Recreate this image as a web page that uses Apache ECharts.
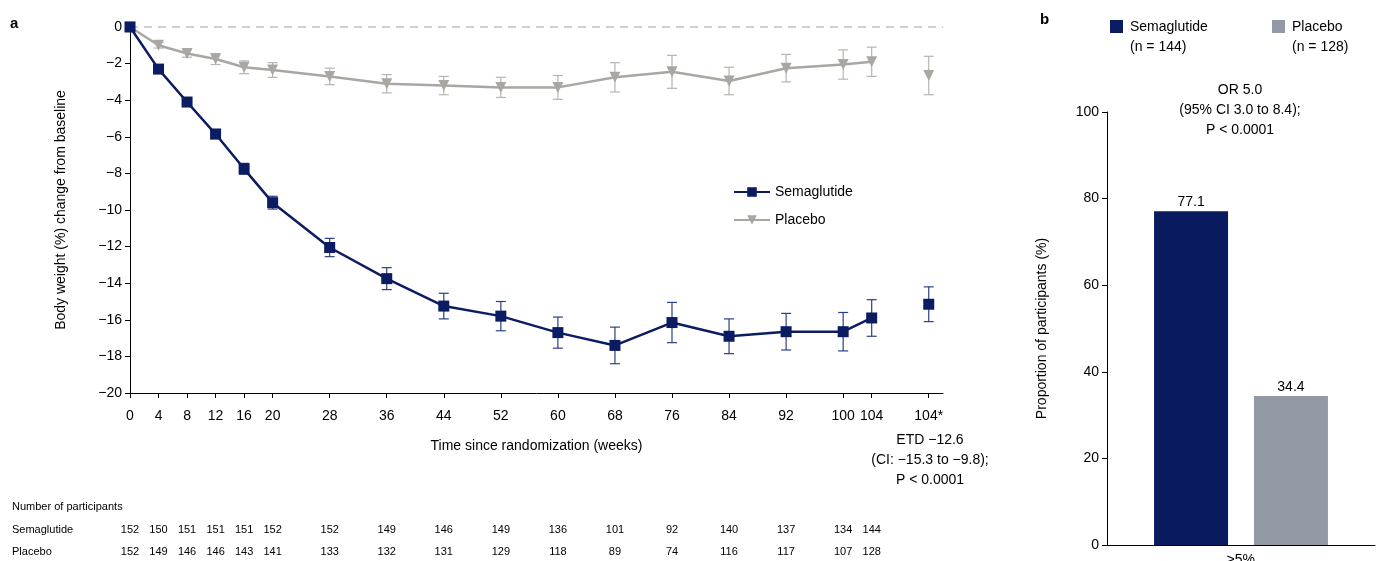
<!DOCTYPE html>
<html>
<head>
<meta charset="utf-8">
<script src="https://cdn.jsdelivr.net/npm/echarts@6/dist/echarts.min.js"></script>
<style>html,body{margin:0;padding:0;background:#fff}#main{width:1377px;height:561px}</style>
</head>
<body>
<div id="main"></div>
<script>
// week positions; 112 stands for the "104*" final value
var weeks = [0, 4, 8, 12, 16, 20, 28, 36, 44, 52, 60, 68, 76, 84, 92, 100, 104];
var tickLabels = ["0", "4", "8", "12", "16", "20", "28", "36", "44", "52", "60", "68", "76", "84", "92", "100", "104", "104*"];
var tickPos = weeks.concat([112]);
var semaMean = [0, -2.3, -4.1, -5.85, -7.75, -9.6, -12.05, -13.75, -15.25, -15.8, -16.7, -17.4, -16.15, -16.9, -16.65, -16.65, -15.9];
var semaErr = [0, 0.15, 0.2, 0.25, 0.3, 0.35, 0.5, 0.6, 0.7, 0.8, 0.85, 1.0, 1.1, 0.95, 1.0, 1.05, 1.0];
var semaFinal = -15.15, semaFinalErr = 0.95;
var plaMean = [0, -1.0, -1.45, -1.75, -2.2, -2.35, -2.7, -3.1, -3.2, -3.3, -3.3, -2.75, -2.45, -2.95, -2.25, -2.05, -1.9];
var plaErr = [0, 0.15, 0.2, 0.3, 0.35, 0.4, 0.45, 0.5, 0.5, 0.55, 0.65, 0.8, 0.9, 0.75, 0.75, 0.8, 0.8];
var plaFinal = -2.65, plaFinalErr = 1.05;
var semaN = [152, 150, 151, 151, 151, 152, 152, 149, 146, 149, 136, 101, 92, 140, 137, 134, 144];
var plaN = [152, 149, 146, 146, 143, 141, 133, 132, 131, 129, 118, 89, 74, 116, 117, 107, 128];
var barCats = ["≥5%"];
var barSema = [77.1];
var barPla = [34.4];

var NAVY = "#0b1c62", GREY = "#aaa6a2", BARGREY = "#9499a6";
var FONT = "Liberation Sans";

function pts(x, y) { return x.map(function (v, i) { return [v, y[i]]; }); }
function errData(x, m, e) { return x.map(function (v, i) { return [v, m[i] - e[i], m[i] + e[i]]; }); }
function errSeries(data, color) {
  return {
    type: "custom", xAxisIndex: 0, yAxisIndex: 0, z: 1, silent: true,
    renderItem: function (params, api) {
      var lo = api.coord([api.value(0), api.value(1)]);
      var hi = api.coord([api.value(0), api.value(2)]);
      var w = 5;
      var st = { stroke: color, lineWidth: 1.2 };
      return { type: "group", children: [
        { type: "line", shape: { x1: lo[0], y1: lo[1], x2: hi[0], y2: hi[1] }, style: st },
        { type: "line", shape: { x1: lo[0] - w, y1: lo[1], x2: lo[0] + w, y2: lo[1] }, style: st },
        { type: "line", shape: { x1: hi[0] - w, y1: hi[1], x2: hi[0] + w, y2: hi[1] }, style: st }
      ] };
    },
    encode: { x: 0, y: [1, 2] },
    data: data
  };
}

function txt(x, y, s, size, align) {
  return { type: "text", x: x, y: y, style: { text: s, font: size + "px " + FONT, fill: "#000", align: align || "left", lineHeight: 20 } };
}
function row(x, y, s, align) {
  return { type: "text", x: x, y: y, style: { text: s, font: "11px " + FONT, fill: "#000", align: align || "left", verticalAlign: "middle" } };
}
var graphics = [
  { type: "text", x: 10, y: 16, style: { text: "a", font: "bold 15px " + FONT, fill: "#000" } },
  { type: "text", x: 1040, y: 12, style: { text: "b", font: "bold 15px " + FONT, fill: "#000" } },
  txt(930, 430, "ETD −12.6\n(CI: −15.3 to −9.8);\nP < 0.0001", 14, "center"),
  row(12, 507, "Number of participants"),
  row(12, 530, "Semaglutide"),
  row(12, 552, "Placebo"),
  { type: "rect", x: 1110, y: 20, shape: { width: 13, height: 13 }, style: { fill: NAVY } },
  txt(1130, 17, "Semaglutide\n(n = 144)", 14),
  { type: "rect", x: 1272, y: 20, shape: { width: 13, height: 13 }, style: { fill: BARGREY } },
  txt(1292, 17, "Placebo\n(n = 128)", 14),
  txt(1240, 80, "OR 5.0\n(95% CI 3.0 to 8.4);\nP < 0.0001", 14, "center")
];

var myChart = echarts.init(document.getElementById("main"));
var option = {
  animation: false,
  textStyle: { fontFamily: FONT },
  grid: [
    { left: 130, right: 434, top: 27, bottom: 168, outerBoundsMode: "none" },
    { left: 1107, right: 2, top: 112, bottom: 16, outerBoundsMode: "none" }
  ],
  legend: {
    data: ["Semaglutide", "Placebo"], orient: "vertical", left: 728, top: 180,
    itemGap: 14, itemWidth: 36, itemHeight: 12,
    textStyle: { fontSize: 14, color: "#000", fontFamily: FONT }
  },
  xAxis: [
    {
      type: "value", gridIndex: 0, min: 0, max: 114,
      name: "Time since randomization (weeks)", nameLocation: "middle", nameGap: 46,
      nameTextStyle: { fontSize: 14, color: "#000" },
      axisLine: { onZero: false, lineStyle: { color: "#000" } },
      axisTick: { customValues: tickPos, length: 5, lineStyle: { color: "#000" } },
      axisLabel: {
        customValues: tickPos, fontSize: 14, color: "#000", margin: 16,
        formatter: function (v) { return tickLabels[tickPos.indexOf(v)]; }
      },
      splitLine: { show: false }
    },
    {
      type: "category", gridIndex: 1, data: barCats,
      axisLine: { lineStyle: { color: "#000" } }, axisTick: { show: false },
      axisLabel: { fontSize: 14, color: "#000", margin: 8 }
    }
  ],
  yAxis: [
    {
      type: "value", gridIndex: 0, min: -20, max: 0, interval: 2,
      name: "Body weight (%) change from baseline", nameLocation: "middle", nameGap: 62,
      nameTextStyle: { fontSize: 14, color: "#000" },
      axisLine: { show: true, lineStyle: { color: "#000" } },
      axisTick: { show: true, length: 5, lineStyle: { color: "#000" } },
      axisLabel: { fontSize: 14, color: "#000", formatter: function (v) { return String(v).replace("-", "−"); } },
      splitLine: { show: false }
    },
    {
      type: "value", gridIndex: 1, min: 0, max: 100, interval: 20,
      name: "Proportion of participants (%)", nameLocation: "middle", nameGap: 58,
      nameTextStyle: { fontSize: 14, color: "#000" },
      axisLine: { show: true, lineStyle: { color: "#000" } },
      axisTick: { show: true, length: 5, lineStyle: { color: "#000" } },
      axisLabel: { fontSize: 14, color: "#000" },
      splitLine: { show: false }
    }
  ],
  series: [
    {
      type: "line", xAxisIndex: 0, yAxisIndex: 0, silent: true, symbol: "none",
      data: [[0, 0], [114, 0]], lineStyle: { color: "#d0d0d0", type: [8, 6], width: 2 }, z: 0
    },
    errSeries(errData(weeks, plaMean, plaErr).concat([[112, plaFinal - plaFinalErr, plaFinal + plaFinalErr]]), "#b8b4b0"),
    errSeries(errData(weeks, semaMean, semaErr).concat([[112, semaFinal - semaFinalErr, semaFinal + semaFinalErr]]), "#2c3f86"),
    {
      name: "Placebo", type: "line", xAxisIndex: 0, yAxisIndex: 0, data: pts(weeks, plaMean),
      symbol: "triangle", symbolRotate: 180, symbolSize: 11, itemStyle: { color: GREY },
      lineStyle: { color: GREY, width: 2.5 }, z: 3
    },
    {
      type: "line", xAxisIndex: 0, yAxisIndex: 0, data: [[112, plaFinal]], showAllSymbol: true,
      symbol: "triangle", symbolRotate: 180, symbolSize: 11, itemStyle: { color: GREY }, z: 3
    },
    {
      name: "Semaglutide", type: "line", xAxisIndex: 0, yAxisIndex: 0, data: pts(weeks, semaMean),
      symbol: "rect", symbolSize: 11, itemStyle: { color: NAVY },
      lineStyle: { color: NAVY, width: 2.5 }, z: 4
    },
    {
      type: "line", xAxisIndex: 0, yAxisIndex: 0, data: [[112, semaFinal]], showAllSymbol: true,
      symbol: "rect", symbolSize: 11, itemStyle: { color: NAVY }, z: 4
    },
    {
      type: "bar", xAxisIndex: 1, yAxisIndex: 1, data: barSema, barWidth: 74, barGap: "35%",
      itemStyle: { color: "#0a1a5e" }, label: { show: true, position: "top", fontSize: 14, color: "#000", distance: 2 }
    },
    {
      type: "bar", xAxisIndex: 1, yAxisIndex: 1, data: barPla, barWidth: 74,
      itemStyle: { color: BARGREY }, label: { show: true, position: "top", fontSize: 14, color: "#000", distance: 2 }
    }
  ],
  graphic: graphics
};
myChart.setOption(option);

// participant counts under each week tick
var extra = [];
weeks.forEach(function (w, i) {
  var x = myChart.convertToPixel({ xAxisIndex: 0 }, w);
  extra.push(row(x, 530, String(semaN[i]), "center"));
  extra.push(row(x, 552, String(plaN[i]), "center"));
});
myChart.setOption({ graphic: graphics.concat(extra) });
</script>
</body>
</html>
